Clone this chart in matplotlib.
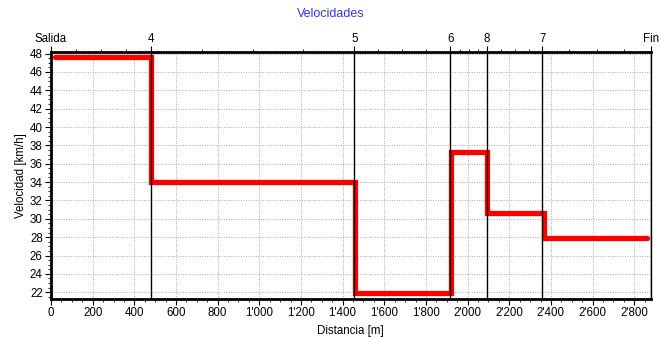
import matplotlib.pyplot as plt
import numpy as np
from matplotlib.ticker import FuncFormatter, MultipleLocator

# datos: tramos de velocidad y marcas de vuelta
bordes = [20, 480, 1460, 1920, 2095, 2365, 2860]   # m
velocidades = [47.6, 34.0, 21.9, 37.3, 30.6, 27.9]   # km/h
marcas = ["Salida", "4", "5", "6", "8", "7", "Fin"]
pos_marcas = [0, 480, 1456, 1917, 2094, 2359, 2879]

plt.rcParams['font.family'] = ['Liberation Sans', 'DejaVu Sans']
plt.rcParams['font.size'] = 8.3

fig = plt.figure(figsize=(6.61, 3.38), dpi=100)
ax = fig.add_axes([0.0772, 0.1163, 0.9072, 0.7307])

# escalones
x = np.repeat(bordes, 2)[1:-1]
y = np.repeat(velocidades, 2)
ax.plot(x, y, color='red', lw=3.8, solid_joinstyle='miter', solid_capstyle='round', zorder=3)

# lineas verticales de las marcas
for p in pos_marcas[1:]:
    ax.axvline(p, color='black', lw=1.0, zorder=4)

ax.set_xlim(0, pos_marcas[-1])
ax.set_ylim(21.3, 48.2)
ax.xaxis.set_major_locator(MultipleLocator(200))
ax.xaxis.set_minor_locator(MultipleLocator(50))
ax.yaxis.set_major_locator(MultipleLocator(2))
ax.yaxis.set_minor_locator(MultipleLocator(0.5))
ax.xaxis.set_major_formatter(FuncFormatter(lambda v, p: f"{int(v):,}".replace(",", "'")))
ax.tick_params(which='major', length=4, width=0.8, pad=2)
ax.tick_params(which='minor', length=2, width=0.6)
ax.grid(True, which='major', color='#aaaaaa', lw=0.7, linestyle=(0, (1, 1.5)))

for s in ['left', 'bottom', 'top']:
    ax.spines[s].set_linewidth(2)
ax.spines['right'].set_linewidth(1)

ax.set_xlabel("Distancia [m]", labelpad=4)
ax.set_ylabel("Velocidad [km/h]", labelpad=2)

# eje superior con las marcas
ax2 = ax.twiny()
ax2.set_xlim(ax.get_xlim())
ax2.set_xticks(pos_marcas)
ax2.set_xticklabels(marcas)
sub = []
for a, b in zip(pos_marcas[:-1], pos_marcas[1:]):
    sub += [a + (b - a) * k / 4 for k in (1, 2, 3)]
ax2.set_xticks(sub, minor=True)
ax2.tick_params(which='major', length=4, width=0.8, pad=1)
ax2.tick_params(which='minor', length=2, width=0.6)
for s in ax2.spines.values():
    s.set_visible(False)

fig.text(0.5, 1 - 14 / 338, "Velocidades", color='#3333ff', ha='center', va='center', fontsize=9)

fig.savefig("out.png", dpi=100)
